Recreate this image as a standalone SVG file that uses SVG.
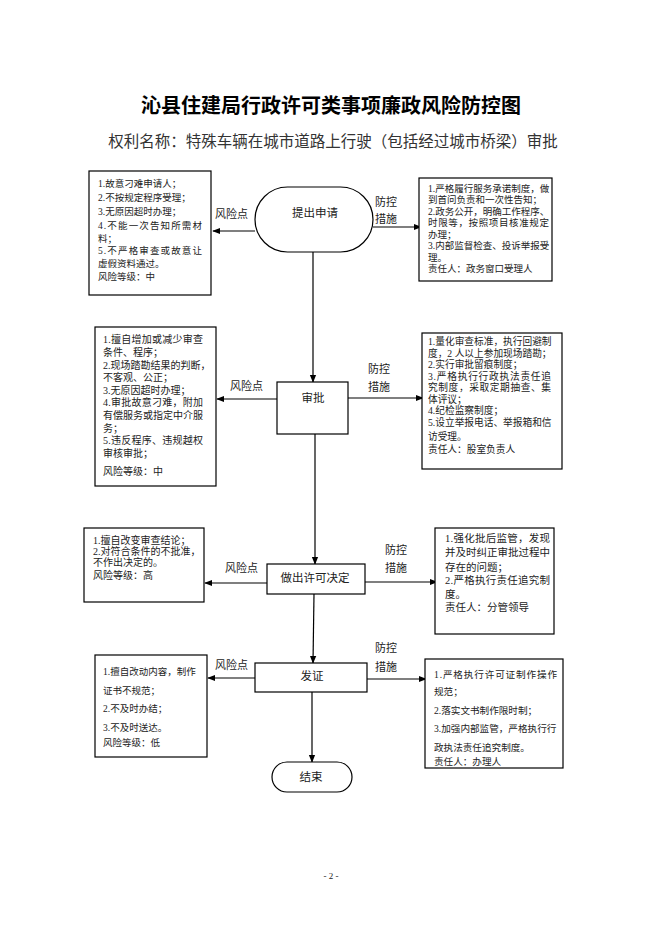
<svg xmlns="http://www.w3.org/2000/svg" width="662" height="936" viewBox="0 0 662 936">
<defs>
<style>
text{font-family:"Liberation Serif","Noto Sans CJK SC",serif;fill:#222}
.t{font-size:20px;font-weight:bold;text-anchor:middle;fill:#000}
.st{font-size:15.5px;text-anchor:middle;fill:#333}
.b{fill:#fff;stroke:#000;stroke-width:1.2}
.n{font-size:11.5px;text-anchor:middle}
.l{font-size:11px}
.s95{font-size:9.5px}
.s10{font-size:10px}
.s105{font-size:10.5px}
.c{stroke:#000;stroke-width:1.2;fill:none}
.pg{font-size:9px;text-anchor:middle}
</style>
<marker id="ah" viewBox="0 0 10 10" refX="9" refY="5" markerWidth="8" markerHeight="8" markerUnits="userSpaceOnUse" orient="auto">
<path d="M0,1 L10,5 L0,9 Z" fill="#000"/>
</marker>
</defs>
<rect width="662" height="936" fill="#fff"/>
<text class="t" x="331" y="113">沁县住建局行政许可类事项廉政风险防控图</text>
<text class="st" x="333" y="147">权利名称：特殊车辆在城市道路上行驶（包括经过城市桥梁）审批</text>

<g id="connectors">
<line class="c" x1="313" y1="252" x2="313" y2="382" marker-end="url(#ah)"/>
<line class="c" x1="315" y1="434" x2="315" y2="564" marker-end="url(#ah)"/>
<line class="c" x1="314" y1="594" x2="313" y2="663" marker-end="url(#ah)"/>
<line class="c" x1="312" y1="692" x2="312" y2="762" marker-end="url(#ah)"/>
<line class="c" x1="255" y1="231" x2="213" y2="231" marker-end="url(#ah)"/>
<line class="c" x1="373" y1="227" x2="421" y2="227" marker-end="url(#ah)"/>
<line class="c" x1="277" y1="399" x2="217" y2="399" marker-end="url(#ah)"/>
<line class="c" x1="348" y1="398" x2="423" y2="398" marker-end="url(#ah)"/>
<line class="c" x1="267" y1="583" x2="205" y2="583" marker-end="url(#ah)"/>
<line class="c" x1="365" y1="582" x2="437" y2="582" marker-end="url(#ah)"/>
<line class="c" x1="255" y1="678" x2="208" y2="678" marker-end="url(#ah)"/>
<line class="c" x1="367" y1="679" x2="426" y2="679" marker-end="url(#ah)"/>
<text class="l" x="215" y="218">风险点</text>
<text class="l" x="375" y="206">防控</text>
<text class="l" x="375" y="223">措施</text>
<text class="l" x="230" y="390">风险点</text>
<text class="l" x="368" y="373">防控</text>
<text class="l" x="368" y="391">措施</text>
<text class="l" x="225" y="572">风险点</text>
<text class="l" x="385" y="554">防控</text>
<text class="l" x="385" y="572">措施</text>
<text class="l" x="215" y="669">风险点</text>
<text class="l" x="375" y="652">防控</text>
<text class="l" x="375" y="671">措施</text>
</g>

<g id="n-start">
<rect class="b" x="255" y="187" width="118" height="65" rx="32.5" ry="32.5"/>
<text class="n" x="315" y="217">提出申请</text>
</g>
<g id="n-approve">
<rect class="b" x="277" y="382" width="71" height="52"/>
<text class="n" x="313" y="402">审批</text>
</g>
<g id="n-decide">
<rect class="b" x="267" y="564" width="98" height="30"/>
<text class="n" x="315" y="582">做出许可决定</text>
</g>
<g id="n-issue">
<rect class="b" x="255" y="663" width="112" height="29"/>
<text class="n" x="312" y="680">发证</text>
</g>
<g id="n-end">
<rect class="b" x="272" y="762" width="80" height="30" rx="15" ry="15"/>
<text class="n" x="311" y="781">结束</text>
</g>

<g id="risk1">
<rect class="b" x="89" y="171" width="122" height="124"/>
<g class="s95">
<text x="98" y="186.5">1.故意刁难申请人；</text>
<text x="98" y="200.5">2.不按规定程序受理；</text>
<text x="98" y="214.5">3.无原因超时办理；</text>
<text x="98" y="228.5" textLength="104" lengthAdjust="spacing">4.不能一次告知所需材</text>
<text x="98" y="241.5">料；</text>
<text x="98" y="253.5" textLength="104" lengthAdjust="spacing">5.不严格审查或故意让</text>
<text x="98" y="266.5">虚假资料通过。</text>
<text x="98" y="279.5">风险等级：中</text>
</g>
</g>
<g id="ctrl1">
<rect class="b" x="419" y="178" width="133" height="103"/>
<g class="s95">
<text x="428" y="191.5">1.严格履行服务承诺制度，做</text>
<text x="428" y="203">到首问负责和一次性告知；</text>
<text x="428" y="214.5">2.政务公开，明确工作程序、</text>
<text x="428" y="226" textLength="121" lengthAdjust="spacing">时限等，按照项目核准规定</text>
<text x="428" y="237.5">办理；</text>
<text x="428" y="249">3.内部监督检查、投诉举报受</text>
<text x="428" y="260.5">理。</text>
<text x="428" y="272">责任人：政务窗口受理人</text>
</g>
</g>

<g id="risk2">
<rect class="b" x="95" y="327" width="121" height="159"/>
<g class="s10">
<text x="103" y="342.5" textLength="100" lengthAdjust="spacing">1.擅自增加或减少审查</text>
<text x="103" y="355.5">条件、程序；</text>
<text x="103" y="368.5">2.现场踏勘结果的判断，</text>
<text x="103" y="380.5">不客观、公正；</text>
<text x="103" y="393.5">3.无原因超时办理；</text>
<text x="103" y="405.5" textLength="100" lengthAdjust="spacing">4.审批故意刁难，附加</text>
<text x="103" y="418.5" textLength="100" lengthAdjust="spacing">有偿服务或指定中介服</text>
<text x="103" y="431.5">务；</text>
<text x="103" y="443.5" textLength="100" lengthAdjust="spacing">5.违反程序、违规越权</text>
<text x="103" y="456.5">审核审批；</text>
<text x="103" y="474.5">风险等级：中</text>
</g>
</g>
<g id="ctrl2">
<rect class="b" x="422" y="333" width="140" height="136"/>
<g style="font-size:9.7px">
<text x="428" y="345">1.量化审查标准，执行回避制</text>
<text x="428" y="356.5">度，2 人以上参加现场踏勘；</text>
<text x="428" y="368">2.实行审批留痕制度；</text>
<text x="428" y="379.5" textLength="123" lengthAdjust="spacing">3.严格执行行政执法责任追</text>
<text x="428" y="391" textLength="123" lengthAdjust="spacing">究制度，采取定期抽查、集</text>
<text x="428" y="402.5">体评议；</text>
<text x="428" y="414">4.纪检监察制度；</text>
<text x="428" y="426">5.设立举报电话、举报箱和信</text>
<text x="428" y="439.5">访受理。</text>
<text x="428" y="453">责任人：股室负责人</text>
</g>
</g>

<g id="risk3">
<rect class="b" x="84" y="528" width="120" height="74"/>
<g class="s10">
<text x="93" y="543.5">1.擅自改变审查结论；</text>
<text x="93" y="554.5">2.对符合条件的不批准，</text>
<text x="93" y="565.5">不作出决定的。</text>
<text x="93" y="578.5">风险等级：高</text>
</g>
</g>
<g id="ctrl3">
<rect class="b" x="435" y="528" width="119" height="106"/>
<g class="s105">
<text x="445" y="542" textLength="105" lengthAdjust="spacing">1.强化批后监管，发现</text>
<text x="445" y="556" textLength="105" lengthAdjust="spacing">并及时纠正审批过程中</text>
<text x="445" y="571">存在的问题；</text>
<text x="445" y="584" textLength="105" lengthAdjust="spacing">2.严格执行责任追究制</text>
<text x="445" y="598">度。</text>
<text x="445" y="611">责任人：分管领导</text>
</g>
</g>

<g id="risk4">
<rect class="b" x="95" y="655" width="112" height="102"/>
<g class="s95">
<text x="103" y="674.5">1.擅自改动内容，制作</text>
<text x="103" y="693.5">证书不规范；</text>
<text x="103" y="711.5">2.不及时办结；</text>
<text x="103" y="730.5">3.不及时送达。</text>
<text x="103" y="745.5">风险等级：低</text>
</g>
</g>
<g id="ctrl4">
<rect class="b" x="425" y="659" width="138" height="109"/>
<g style="font-size:9.6px">
<text x="434" y="677.5" textLength="123" lengthAdjust="spacing">1.严格执行许可证制作操作</text>
<text x="434" y="694.5">规范；</text>
<text x="434" y="713.5">2.落实文书制作限时制；</text>
<text x="434" y="731.5">3.加强内部监管，严格执行行</text>
<text x="434" y="750.5">政执法责任追究制度。</text>
<text x="434" y="764.5">责任人：办理人</text>
</g>
</g>

<text class="pg" x="331" y="879">- 2 -</text>
</svg>
